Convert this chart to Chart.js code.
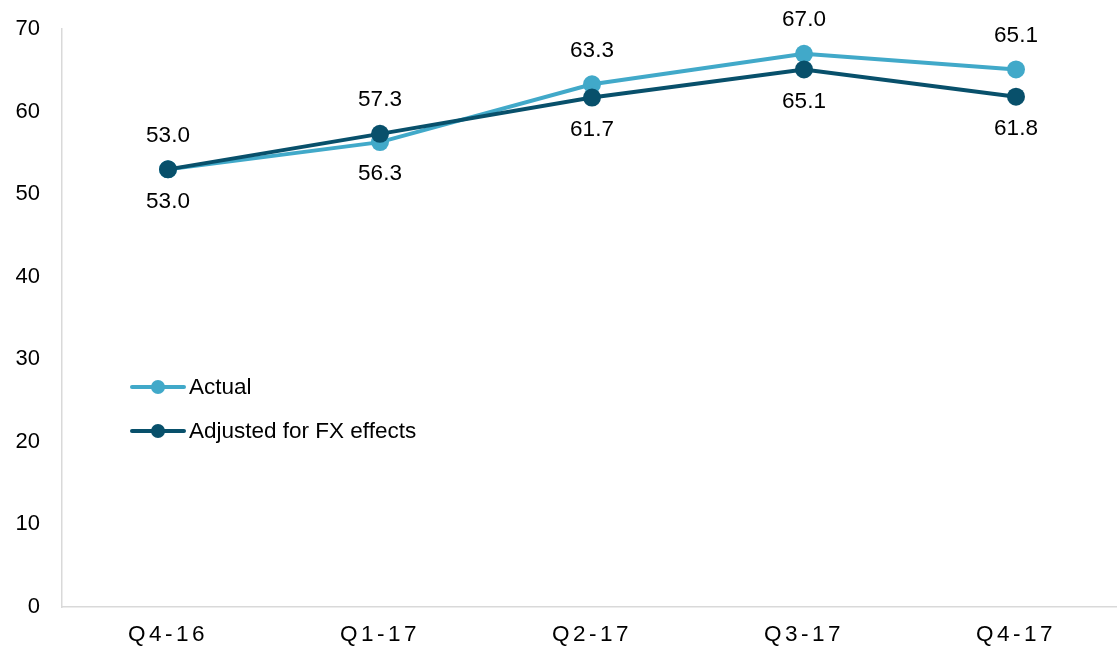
<!DOCTYPE html>
<html>
<head>
<meta charset="utf-8">
<script src="https://cdn.jsdelivr.net/npm/chart.js@4.4.1/dist/chart.umd.min.js"></script>
<style>
  body { margin: 0; background: #fff; overflow: hidden; width: 1117px; height: 648px; }
  #wrap { position: relative; width: 1131px; height: 648px; }
  .legend { position: absolute; left: 130px; top: 374px; font: 22.5px "Liberation Sans", Arial, sans-serif; color: #000; }
  .legend div { display: flex; align-items: center; height: 26px; margin-bottom: 18px; }
  .key { position: relative; width: 56px; height: 26px; margin-right: 3px; }
  .key .ln { position: absolute; left: 0; right: 0; top: 11px; height: 4px; border-radius: 2px; }
  .key .dot { position: absolute; left: 21px; top: 6px; width: 14px; height: 14px; border-radius: 50%; }
</style>
</head>
<body>
<div id="wrap">
  <canvas id="chart"></canvas>
  <div class="legend" id="legend"></div>
</div>
<script>
const quarters = ['Q4-16', 'Q1-17', 'Q2-17', 'Q3-17', 'Q4-17'];
const actual = [53.0, 56.3, 63.3, 67.0, 65.1];
const adjusted = [53.0, 57.3, 61.7, 65.1, 61.8];
// where each value label sits relative to its point
const actualLabelPos = ['below', 'below', 'above', 'above', 'above'];
const adjustedLabelPos = ['above', 'above', 'below', 'below', 'below'];

const lightBlue = '#41a9c9';
const darkBlue = '#08506b';
const font = '"Liberation Sans", Arial, sans-serif';

// value labels drawn next to the points, then letter spacing for the x axis
const pointLabels = {
  id: 'pointLabels',
  afterDatasetsDraw(chart) {
    const ctx = chart.ctx;
    ctx.save();
    ctx.font = `22.5px ${font}`;
    ctx.fillStyle = '#000';
    ctx.textAlign = 'center';
    ctx.textBaseline = 'middle';
    chart.data.datasets.forEach((ds, i) => {
      const meta = chart.getDatasetMeta(i);
      meta.data.forEach((pt, j) => {
        const dy = ds.labelPos[j] === 'above' ? -34 : 32;
        ctx.fillText(ds.data[j].toFixed(1), pt.x, pt.y + dy);
      });
    });
    ctx.restore();
    ctx.letterSpacing = '3.5px';
  },
  afterDraw(chart) {
    chart.ctx.letterSpacing = '0px';
  },
};

const chart = new Chart(document.getElementById('chart'), {
  type: 'line',
  data: {
    labels: quarters,
    datasets: [
      {
        label: 'Actual',
        data: actual,
        labelPos: actualLabelPos,
        borderColor: lightBlue,
        backgroundColor: lightBlue,
        borderWidth: 4,
        pointRadius: 9,
        pointBorderWidth: 0,
        order: 2,
      },
      {
        label: 'Adjusted for FX effects',
        data: adjusted,
        labelPos: adjustedLabelPos,
        borderColor: darkBlue,
        backgroundColor: darkBlue,
        borderWidth: 4,
        pointRadius: 9,
        pointBorderWidth: 0,
        order: 1,
      },
    ],
  },
  options: {
    responsive: true,
    maintainAspectRatio: false,
    animation: false,
    layout: { padding: { top: 29, right: 2, left: 0, bottom: 0 } },
    plugins: { legend: { display: false }, tooltip: { enabled: false } },
    scales: {
      x: {
        offset: true,
        grid: { display: false },
        border: { display: true, color: '#d9d9d9', width: 1.5 },
        ticks: { z: 1, color: '#000', font: { family: font, size: 22.5 }, padding: 6, maxRotation: 0 },
        afterFit: (scale) => { scale.height = 41; },
      },
      y: {
        min: 0,
        max: 70,
        grid: { display: false },
        border: { display: true, color: '#d9d9d9', width: 1.5 },
        ticks: { stepSize: 10, color: '#000', font: { family: font, size: 22 }, padding: 14 },
        afterFit: (scale) => { scale.width = 62; },
      },
    },
  },
  plugins: [pointLabels],
});

// legend placed inside the plot like the original
const legendBox = document.getElementById('legend');
chart.data.datasets.forEach((ds) => {
  const row = document.createElement('div');
  row.innerHTML = `<span class="key"><span class="ln" style="background:${ds.borderColor}"></span>`
    + `<span class="dot" style="background:${ds.borderColor}"></span></span><span>${ds.label}</span>`;
  legendBox.appendChild(row);
});
</script>
</body>
</html>
